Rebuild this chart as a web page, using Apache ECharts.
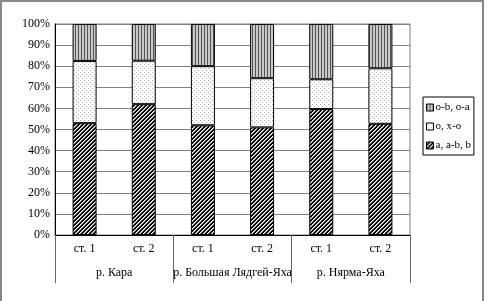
<!DOCTYPE html>
<html>
<head>
<meta charset="utf-8">
<script src="https://cdn.jsdelivr.net/npm/echarts/dist/echarts.min.js"></script>
<style>
html,body{margin:0;padding:0;background:#fff;}
#chart{width:487px;height:301px;}
</style>
</head>
<body>
<div id="chart"></div>
<script>
var categories = ['ст. 1', 'ст. 2', 'ст. 1', 'ст. 2', 'ст. 1', 'ст. 2'];
var groups = ['р. Кара', 'р. Большая Лядгей-Яха', 'р. Нярма-Яха'];
var seriesNames = ['a, a-b, b', 'o, x-o', 'o-b, o-a'];
var valuesA = [53, 62, 52, 51, 59.7, 52.7];
var valuesO = [29.5, 20.6, 28, 23.3, 14.1, 26.3];
var valuesOB = [17.5, 17.4, 20, 25.7, 26.2, 21];

function makePattern(w, h, draw) {
  var c = document.createElement('canvas');
  c.width = w; c.height = h;
  var ctx = c.getContext('2d');
  draw(ctx, w, h);
  return { image: c, repeat: 'repeat' };
}
var hatch = makePattern(4, 4, function (ctx, w, h) {
  ctx.fillStyle = '#000'; ctx.fillRect(0, 0, w, h);
  for (var x = 0; x < w; x++) for (var y = 0; y < h; y++) {
    var k = (x + y) % 4;
    if (k === 0) { ctx.fillStyle = '#fff'; ctx.fillRect(x, y, 1, 1); }
    else if (k === 1) { ctx.fillStyle = '#999'; ctx.fillRect(x, y, 1, 1); }
  }
});
var dots = makePattern(4, 4, function (ctx, w, h) {
  ctx.fillStyle = '#fff'; ctx.fillRect(0, 0, w, h);
  ctx.fillStyle = '#aaa'; ctx.fillRect(0, 0, 1, 1); ctx.fillRect(2, 2, 1, 1);
});
var vstripe = makePattern(3, 3, function (ctx, w, h) {
  ctx.fillStyle = '#c8c8c8'; ctx.fillRect(0, 0, w, h);
  ctx.fillStyle = '#555'; ctx.fillRect(0, 0, 1, h);
});

var font = 'Liberation Serif';
var chart = echarts.init(document.getElementById('chart'), null, { renderer: 'canvas' });
chart.setOption({
  animation: false,
  backgroundColor: '#fff',
  graphic: [{
    type: 'rect', shape: { x: 1, y: 1, width: 482, height: 320 },
    style: { fill: 'none', stroke: '#888', lineWidth: 2 }, silent: true
  }],
  grid: { left: 55, right: 77, top: 24, bottom: 66, show: true, borderColor: '#808080', borderWidth: 1 },
  legend: {
    orient: 'vertical', left: 423, top: 97,
    data: [seriesNames[2], seriesNames[1], seriesNames[0]],
    itemWidth: 7, itemHeight: 7, itemGap: 8,
    borderColor: '#000', borderWidth: 1, backgroundColor: '#fff',
    padding: [5, 3, 4, 3],
    textStyle: { fontFamily: font, fontSize: 11, color: '#000', padding: [0, 0, 0, -3] },
    icon: 'rect',
    itemStyle: { borderColor: '#000', borderWidth: 1 }
  },
  xAxis: [{
    type: 'category', data: categories, gridIndex: 0, position: 'bottom',
    axisLine: { lineStyle: { color: '#000', width: 1 } },
    axisTick: { length: 23, lineStyle: { color: '#666' } },
    axisLabel: { margin: 8, fontFamily: font, fontSize: 12, color: '#000', interval: 0 }
  }, {
    type: 'category', data: groups, gridIndex: 0, position: 'bottom',
    axisLine: { show: false },
    axisTick: { show: true, length: 48, lineStyle: { color: '#666' } },
    axisLabel: { margin: 32, fontFamily: font, fontSize: 12, color: '#000', interval: 0 }
  }],
  yAxis: {
    type: 'value', min: 0, max: 100, interval: 10,
    axisLine: { show: true, lineStyle: { color: '#000' } },
    axisTick: { show: false },
    splitLine: { lineStyle: { color: '#808080', width: 1 } },
    axisLabel: { formatter: '{value}%', margin: 5, fontFamily: font, fontSize: 12, color: '#000' }
  },
  series: [
    { name: seriesNames[0], type: 'bar', stack: 's', data: valuesA, barWidth: 24, xAxisIndex: 0,
      itemStyle: { color: hatch, borderColor: '#000', borderWidth: 1 } },
    { name: seriesNames[1], type: 'bar', stack: 's', data: valuesO, barWidth: 24, xAxisIndex: 0,
      itemStyle: { color: dots, borderColor: '#000', borderWidth: 1 } },
    { name: seriesNames[2], type: 'bar', stack: 's', data: valuesOB, barWidth: 24, xAxisIndex: 0,
      itemStyle: { color: vstripe, borderColor: '#000', borderWidth: 1 } }
  ]
});
</script>
</body>
</html>
